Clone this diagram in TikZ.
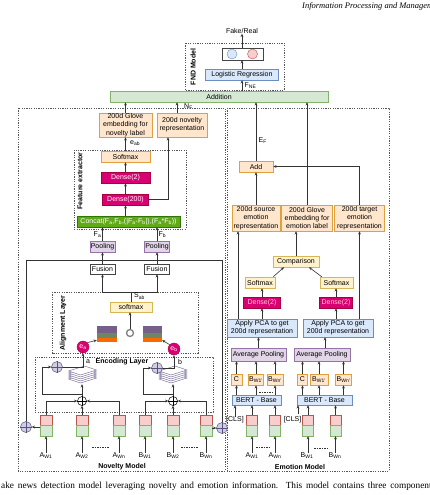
\documentclass[tikz,border=0pt]{standalone}
\usepackage{fontspec}
\setmainfont{Liberation Serif}
\newfontfamily\arialf{Liberation Sans}
\usetikzlibrary{arrows.meta,calc}
\definecolor{orF}{HTML}{FFE6CC}\definecolor{orD}{HTML}{E0A040}
\definecolor{ylF}{HTML}{FFF2CC}\definecolor{ylD}{HTML}{D6B656}
\definecolor{blF}{HTML}{DAE8FC}\definecolor{blD}{HTML}{6C8EBF}
\definecolor{ppF}{HTML}{E1D5E7}\definecolor{ppD}{HTML}{9673A6}
\definecolor{gnF}{HTML}{D5E8D4}\definecolor{gnD}{HTML}{82B366}
\definecolor{pkF}{HTML}{F8CECC}\definecolor{pkD}{HTML}{B85450}
\definecolor{mgF}{HTML}{D80073}\definecolor{mgD}{HTML}{A50040}
\definecolor{grF}{HTML}{60A917}\definecolor{grD}{HTML}{2D7600}
\definecolor{plF}{HTML}{D0CEE2}\definecolor{plD}{HTML}{56517E}
\definecolor{lc}{HTML}{333333}\definecolor{dashc}{HTML}{555555}
\definecolor{boxg}{HTML}{444444}
\definecolor{mtP}{HTML}{76608A}\definecolor{mtG}{HTML}{6D8764}\definecolor{mtO}{HTML}{FA6800}
\definecolor{stkD}{HTML}{6A5F8C}
\newcommand\fsz{\arialf\fontsize{7}{8.2}\selectfont}
\newcommand\fszb{\arialf\bfseries\fontsize{7}{8.2}\selectfont}
\newcommand\oplusnode[6]{%
  \node[circle, fill=#5, draw=#6, line width=0.5pt, minimum size=#4pt, inner sep=0pt] (#1) at (#2,#3) {};
  \draw[#6, line width=0.5pt] (#1.north) -- (#1.south) (#1.west) -- (#1.east);}
\newcommand\sheetstack[1]{%
  \foreach \k in {0,...,4} {%
    \filldraw[fill=white, draw=stkD, line width=0.4pt, shift={($(#1.center)+(0,{4-2*\k})$)}]
      (-14,0) -- (-2,4) -- (14,-1) -- (2,-5) -- cycle;
  }}
\tikzset{
  every node/.style={font=\fsz},
  arr/.style={-{Stealth[length=3.2pt,width=2.8pt]}, draw=lc, line width=0.6pt},
  ln/.style={draw=lc, line width=0.6pt},
  bx/.style={draw, rectangle, inner sep=0pt, align=center, line width=0.5pt},
  orb/.style={bx, fill=orF, draw=orD},
  ylb/.style={bx, fill=ylF, draw=ylD},
  blb/.style={bx, fill=blF, draw=blD},
  ppb/.style={bx, fill=ppF, draw=ppD},
  mgb/.style={bx, fill=mgF, draw=mgD, text=white},
  grb/.style={bx, fill=grF, draw=grD, text=white},
  whb/.style={bx, fill=white, draw=boxg},
  dbox/.style={draw=dashc, line width=0.6pt, dash pattern=on 1.2pt off 1.2pt},
  dsh/.style={draw=lc, line width=0.5pt, dash pattern=on 1.5pt off 1pt},
  lbl/.style={inner sep=0pt},
  ttl/.style={inner sep=0pt, font=\fszb},
  ecirc/.style={circle, fill=mgF, draw=mgD, minimum size=12pt, inner sep=0pt, text=white},
}
\begin{document}
\begin{tikzpicture}[x=1pt,y=-1pt]
\useasboundingbox (0,0) rectangle (430,495);
\fill[white] (0,0) rectangle (430,495);

% header and caption (cropped page)
\node[anchor=west, inner sep=0pt, font=\itshape\fontsize{8.5}{10}\selectfont] (hdr) at (302,6) {Information Processing and Management};
\node[anchor=west, inner sep=0pt, font=\fontsize{9.3}{11}\selectfont] (cap) at (1,486) {\makebox[434pt][s]{ake news detection model leveraging novelty and emotion information. This model contains three components}};

% ---------------- FND model
\draw[dbox] (185,43) rectangle (284,90);
\node[ttl, rotate=90] (fndt) at (193,67) {FND Model};
\node[whb, minimum width=41pt, minimum height=12pt] (outb) at (242.5,54) {};
\node[circle, fill=blF, draw=blD, minimum size=10pt, inner sep=0pt] (c1) at (232,54) {};
\node[circle, fill=pkF, draw=pkD, minimum size=10pt, inner sep=0pt] (c2) at (252.5,54) {};
\node[lbl] (fr) at (242,31) {Fake/Real};
\node[blb, minimum width=73pt, minimum height=11pt] (lr) at (242,74.5) {Logistic Regression};
\node[bx, fill=gnF, draw=gnD, minimum width=218pt, minimum height=11pt] (addn) at (219,96.5) {Addition};
\draw[arr] (fr.south |- outb.north) -- (fr.south);
\draw[arr] (lr.north) -- (lr.north |- outb.south);
\draw[arr] (lr.south |- addn.north) -- (lr.south);
\node[lbl, anchor=west] (fne) at (244.5,85.5) {F\textsubscript{NE}};

% ---------------- Novelty model
\draw[dbox] (18,108) rectangle (225,471);
\node[ttl] (novt) at (122,466.5) {Novelty Model};
\node[orb, minimum width=53pt, minimum height=24pt] (glN) at (125.5,125) {200d Glove\\embedding for\\novelty label};
\node[orb, minimum width=50pt, minimum height=24pt] (nrep) at (182,125) {200d novelty\\representation};
\draw[arr] (glN.north) -- (glN.north |- addn.south);
\coordinate (nq) at ([xshift=-5pt]nrep.north);
\draw[arr] (nq) -- (nq |- addn.south);
\node[lbl, anchor=west] (nf) at (184,106.5) {N\textsubscript{F}};

% feature extractor
\draw[dbox] (74,150) rectangle (186,229);
\node[ttl, rotate=90] (fet) at (80,181) {Feature extractor};
\node[orb, minimum width=49pt, minimum height=11pt] (sfN) at (125.5,156.5) {Softmax};
\node[mgb, minimum width=49pt, minimum height=11pt] (d2N) at (125.5,177.5) {Dense(2)};
\node[mgb, minimum width=46pt, minimum height=11pt] (d200) at (125.5,199.5) {Dense(200)};
\node[grb, minimum width=103pt, minimum height=11pt] (cc) at (128.5,221.5) {Concat(F\textsubscript{a},F\textsubscript{b},(|F\textsubscript{a}-F\textsubscript{b}|),(F\textsubscript{a}*F\textsubscript{b}))};
\draw[arr] (sfN.north) -- (glN.south);
\node[lbl, anchor=west] (eab) at (130,143.5) {e\textsubscript{ab}};
\draw[arr] (d2N.north) -- (sfN.south);
\draw[arr] (d200.north) -- (d2N.south);
\draw[arr] (d200.south |- cc.north) -- (d200.south);
\draw[arr] (d200.east) -| ([xshift=-14pt]nrep.south);

% pooling and fusion
\node[ppb, minimum width=25pt, minimum height=11pt] (pA) at (102.5,246.5) {Pooling};
\node[ppb, minimum width=25pt, minimum height=11pt] (pB) at (157,246.5) {Pooling};
\draw[arr] (pA.north) -- (pA.north |- cc.south);
\draw[arr] (pB.north) -- (pB.north |- cc.south);
\node[lbl, anchor=east] (fa) at (101.5,235) {F\textsubscript{a}};
\node[lbl, anchor=west] (fb) at (158.5,234.5) {F\textsubscript{b}};
\node[whb, minimum width=25pt, minimum height=10pt] (fuA) at (102.5,269) {Fusion};
\node[whb, minimum width=25pt, minimum height=10pt] (fuB) at (157,269) {Fusion};
\draw[arr] (fuA.north) -- (pA.south);
\draw[arr] (fuB.north) -- (pB.south);

% big residual loop
\oplusnode{bigL}{26}{427}{11}{plF}{plD}
\oplusnode{bigR}{222}{428}{11}{plF}{plD}
\coordinate (lpL) at (26,260);
\coordinate (lpR) at (222,260);
\draw[ln] (bigL.north) -- (lpL) -- (lpR) -- (bigR.north);

% alignment layer
\draw[dbox] (52,292) rectangle (198,353);
\node[ttl, rotate=90] (alt) at (63,323) {Alignment Layer};
\node[ylb, minimum width=42pt, minimum height=10pt] (sfA) at (131,307) {softmax};
\coordinate (sj) at (131,292);
\draw[ln] (sfA.north) -- (sj);
\draw[arr] (sj) -| (fuA.south);
\draw[arr] (sj) -| (fuB.south);
\node[lbl, anchor=west] (sab) at (134,296) {S\textsubscript{ab}};
\node[inner sep=0pt, minimum width=20pt, minimum height=16pt] (matL) at (107,334) {};
\node[inner sep=0pt, minimum width=19pt, minimum height=16pt] (matR) at (152.5,334) {};
\foreach \m in {matL,matR}{
  \fill[mtP] (\m.north west) rectangle ($(\m.north east)+(0,7)$);
  \fill[mtG] ($(\m.north west)+(0,7)$) rectangle ($(\m.north east)+(0,12)$);
  \fill[mtO] ($(\m.north west)+(0,12)$) rectangle (\m.south east);
}
\node[circle, draw=gray, line width=1.3pt, minimum size=7pt, inner sep=0pt, fill=white] (ring) at (130,333) {};
\draw[arr] (ring.north) -- (ring.north |- sfA.south);
\node[ecirc] (ea) at (83,347) {e\textsubscript{a}};
\node[ecirc] (eb) at (174,349) {e\textsubscript{b}};
\draw[arr] (ea.north east) -- ([yshift=2pt]matL.south west);
\draw[arr] (eb.north west) -- ([yshift=2pt]matR.south east);

% encoding layer
\draw[dbox] (35,357) rectangle (213,412);
\node[ttl] (enct) at (122,362) {Encoding Layer};
\node[lbl] (la) at (88,362) {a};
\node[lbl] (lb) at (180,362) {b};
\node[inner sep=0pt, minimum width=29pt, minimum height=18pt] (stkL) at (82.5,375) {};
\node[inner sep=0pt, minimum width=29pt, minimum height=18pt] (stkR) at (173,375) {};
\sheetstack{stkL}
\sheetstack{stkR}
\oplusnode{plusL}{82}{401}{9}{white}{black}
\oplusnode{plusR}{173}{401}{9}{white}{black}
\oplusnode{sL}{57}{367}{11}{plF}{plD}
\oplusnode{sR}{157}{368}{11}{plF}{plD}
\draw[arr] (plusL.north) -- (plusL.north |- stkL.south);
\draw[arr] (plusR.north) -- (plusR.north |- stkR.south);
\coordinate (rL) at (82,394); \coordinate (rL2) at (42,394);
\coordinate (rR) at (173,394); \coordinate (rR2) at (143,394);
\draw[arr] (rL) -- (rL2) |- (sL.west);
\draw[arr] (rR) -- (rR2) |- (sR.west);
\draw[arr] (sL.east) -| (ea.south);
\draw[arr] (sR.east) -| (eb.south);

% tokens
\foreach \n/\x/\w in {tA1/46/12, tA2/82/12, tAn/119/12, tB1/145/12, tB2/173/12, tBn/206/12, eA1/252/11, eAn/275/11, eB1/308/11, eBn/335.5/11}{
  \node[inner sep=0pt, minimum width=\w pt, minimum height=21pt] (\n) at (\x,425.5) {};
  \filldraw[fill=pkF, draw=pkD, line width=0.5pt] (\n.north west) rectangle (\n.east);
  \filldraw[fill=gnF, draw=gnD, line width=0.5pt] (\n.west) rectangle (\n.south east);
}
\draw[arr] (tA1.north) |- (plusL.west);
\draw[arr] (tA2.north) -- (plusL.south);
\draw[arr] (tAn.north) |- (plusL.east);
\draw[arr] (tB1.north) |- (plusR.west);
\draw[arr] (tB2.north) -- (plusR.south);
\draw[arr] (tBn.north) |- (plusR.east);
\draw[arr] (tA1.west |- bigL) -- (bigL.east);
\draw[arr] (tBn.east |- bigR) -- (bigR.west);

% token labels
\foreach \n/\x/\t in {lA1/46/A\textsubscript{W1}, lA2/82/A\textsubscript{W2}, lAn/119/A\textsubscript{Wn}, lB1/145/B\textsubscript{W1}, lB2/173/B\textsubscript{W2}, lBn/206/B\textsubscript{Wn}, mA1/252/A\textsubscript{W1}, mAn/275/A\textsubscript{Wn}, mB1/307/B\textsubscript{W1}, mBn/335/B\textsubscript{Wn}}{
  \node[lbl] (\n) at (\x,456) {\t};
}
\foreach \l/\t in {lA1/tA1, lA2/tA2, lAn/tAn, lB1/tB1, lB2/tB2, lBn/tBn, mA1/eA1, mAn/eAn, mB1/eB1, mBn/eBn}{
  \draw[arr] (\t.south |- \l.north) -- (\t.south);
}
\draw[dsh] (92,447) -- (109,447);
\draw[dsh] (181,447) -- (198,447);
\draw[dsh] (256,447) -- (270,447);
\draw[dsh] (314,448) -- (328,448);

% ---------------- Emotion model
\draw[dbox] (227,108) rectangle (389,471);
\node[ttl] (emt) at (300,466.5) {Emotion Model};
\node[orb, minimum width=48pt, minimum height=26pt] (srcE) at (256,218) {200d source\\emotion\\representation};
\node[orb, minimum width=51pt, minimum height=26pt] (glE) at (307,218) {200d Glove\\embedding for\\emotion label};
\node[orb, minimum width=50pt, minimum height=26pt] (tgtE) at (359.5,218) {200d target\\emotion\\representation};
\node[orb, minimum width=34pt, minimum height=11pt] (addE) at (256,166.5) {Add};
\draw[arr] (addE.north) -- (addE.north |- addn.south);
\draw[arr] (glE.north) -- (glE.north |- addn.south);
\draw[arr] (srcE.north) -- (addE.south);
\draw[arr] (tgtE.north) |- (addE.east);
\node[lbl, anchor=west] (ef) at (258.5,140.5) {E\textsubscript{F}};

\node[ylb, minimum width=46pt, minimum height=11pt] (comp) at (296,261.5) {Comparison};
\draw[arr] (comp.north) -- (comp.north |- glE.south);
\node[ylb, minimum width=30pt, minimum height=11pt] (sfEL) at (260,282.5) {Softmax};
\node[ylb, minimum width=33pt, minimum height=11pt] (sfER) at (336.5,282.5) {Softmax};
\draw[arr] ([xshift=-2pt]sfEL.north east) -- ([xshift=-12pt]comp.south);
\draw[arr] ([xshift=2pt]sfER.north west) -- ([xshift=13pt]comp.south);
\node[mgb, minimum width=37pt, minimum height=11pt, text=pkF] (dEL) at (262,302.5) {Dense(2)};
\node[mgb, minimum width=33pt, minimum height=11pt, text=pkF] (dER) at (336,302.5) {Dense(2)};
\draw[arr] (dEL.north) -- (dEL.north |- sfEL.south);
\draw[arr] (dER.north) -- (dER.north |- sfER.south);
\node[blb, minimum width=70pt, minimum height=18pt] (pcaL) at (262,328) {Apply PCA to get\\200d representation};
\node[blb, minimum width=70pt, minimum height=18pt] (pcaR) at (338,328) {Apply PCA to get\\200d representation};
\draw[arr] (dEL.south |- pcaL.north) -- (dEL.south);
\draw[arr] (dER.south |- pcaR.north) -- (dER.south);
\coordinate (pq) at ([xshift=-24pt]pcaL.north);
\draw[arr] (pq) -- (pq |- srcE.south);
\draw[arr] (tgtE.south |- pcaR.north) -- (tgtE.south);

\node[ppb, minimum width=55pt, minimum height=13pt] (avgL) at (258.5,354.5) {Average Pooling};
\node[ppb, minimum width=56pt, minimum height=13pt] (avgR) at (322,354.5) {Average Pooling};
\draw[arr] (avgL.north) -- (avgL.north |- pcaL.south);
\coordinate (aq) at ([xshift=3pt]avgR.north);
\draw[arr] (aq) -- (aq |- pcaR.south);

\node[orb, minimum width=11pt, minimum height=11pt] (cL) at (236.5,379.5) {C};
\node[orb, minimum width=15pt, minimum height=11pt] (bL1) at (256,379.5) {B\textsubscript{W1'}};
\node[orb, minimum width=16pt, minimum height=11pt] (bLn) at (275,379.5) {B\textsubscript{Wn'}};
\node[orb, minimum width=10pt, minimum height=11pt] (cR) at (302.5,379.5) {C};
\node[orb, minimum width=18pt, minimum height=11pt] (bR1) at (319,379.5) {B\textsubscript{W1'}};
\node[orb, minimum width=16pt, minimum height=11pt] (bRn) at (343.5,379.5) {B\textsubscript{Wn'}};
\node[blb, minimum width=49pt, minimum height=10pt] (bertL) at (256.5,400) {BERT - Base};
\node[blb, minimum width=55pt, minimum height=10pt] (bertR) at (324.5,400) {BERT - Base};
\foreach \b/\a/\e in {cL/avgL/bertL, bL1/avgL/bertL, bLn/avgL/bertL, cR/avgR/bertR, bR1/avgR/bertR, bRn/avgR/bertR}{
  \draw[arr] (\b.north) -- (\b.north |- \a.south);
  \draw[arr] (\b.south |- \e.north) -- (\b.south);
}
\draw[dsh] (259,392) -- (273,392);
\node[lbl] (clsL) at (235,420) {[CLS]};
\node[lbl] (clsR) at (292.5,420) {[CLS]};
\draw[arr] (clsL.north) -- (clsL.north |- bertL.south);
\coordinate (cq) at (298,414);
\draw[arr] (cq) -- (cq |- bertR.south);
\foreach \t/\e in {eA1/bertL, eAn/bertL, eB1/bertR, eBn/bertR}{
  \draw[arr] (\t.north) -- (\t.north |- \e.south);
}
\end{tikzpicture}
\end{document}
